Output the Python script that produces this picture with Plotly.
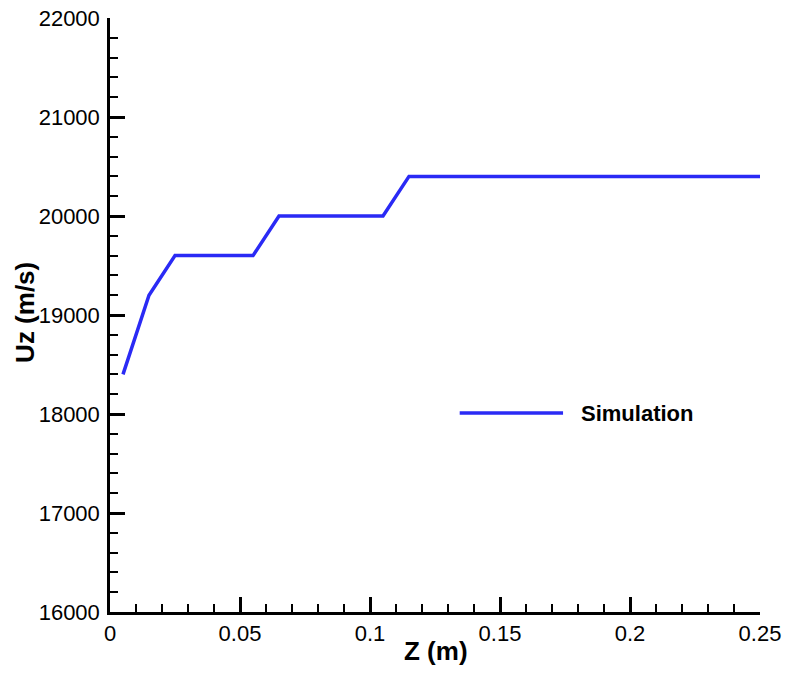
import plotly.graph_objects as go

z_m = [0.005, 0.015, 0.025, 0.055, 0.065, 0.105, 0.115, 0.25]
uz_ms = [18400, 19200, 19600, 19600, 20000, 20000, 20400, 20400]
series_name = "Simulation"
x_ticks = [0, 0.05, 0.1, 0.15, 0.2, 0.25]
x_tick_labels = ["0", "0.05", "0.1", "0.15", "0.2", "0.25"]
y_ticks = [16000, 17000, 18000, 19000, 20000, 21000, 22000]
y_tick_labels = ["16000", "17000", "18000", "19000", "20000", "21000", "22000"]
x_title = "Z (m)"
y_title = "Uz (m/s)"

line_color = "#2a2af5"
font_family = "Liberation Sans, Arial, Helvetica, sans-serif"

fig = go.Figure()
fig.add_trace(go.Scatter(x=z_m, y=uz_ms, mode="lines", name=series_name,
                         line=dict(color=line_color, width=3.5), showlegend=False))

# legend drawn manually to match long sample line
fig.add_shape(type="line", xref="paper", yref="paper", x0=0.538, x1=0.697, y0=0.335, y1=0.335,
              line=dict(color=line_color, width=3.5))
fig.add_annotation(xref="paper", yref="paper", x=0.722, y=0.335, text="<b>" + series_name + "</b>",
                   showarrow=False, xanchor="left", yanchor="middle",
                   font=dict(family=font_family, size=22, color="black"))

# axis titles
fig.add_annotation(xref="paper", yref="paper", x=0.502, y=-0.066, text="<b>" + x_title + "</b>",
                   showarrow=False, xanchor="center", yanchor="middle",
                   font=dict(family=font_family, size=26, color="black"))
fig.add_annotation(xref="paper", yref="paper", x=-0.131, y=0.505, text="<b>" + y_title + "</b>",
                   showarrow=False, xanchor="center", yanchor="middle", textangle=-90,
                   font=dict(family=font_family, size=26, color="black"))

axis_common = dict(showline=True, linecolor="black", linewidth=2.5, ticks="inside",
                   ticklen=15, tickwidth=2.5, tickcolor="black", showgrid=False, zeroline=False,
                   mirror=False, automargin=False,
                   tickfont=dict(family=font_family, size=22, color="black"))

fig.update_xaxes(range=[0, 0.25], tickvals=x_ticks, ticktext=x_tick_labels, ticklabelstandoff=0,
                 minor=dict(ticks="inside", dtick=0.01, ticklen=8, tickwidth=1.5, tickcolor="black", showgrid=False),
                 **axis_common)
fig.update_yaxes(range=[16000, 22000], tickvals=y_ticks, ticktext=y_tick_labels, ticklabelstandoff=3,
                 minor=dict(ticks="inside", dtick=200, ticklen=8, tickwidth=1.5, tickcolor="black", showgrid=False),
                 **axis_common)

fig.update_layout(width=785, height=673, margin=dict(l=110, r=25, t=18, b=61),
                  plot_bgcolor="white", paper_bgcolor="white", showlegend=False)

# remove the default page margin so the figure fills the window exactly
fig.write_html("out.html", config={"displayModeBar": False},
               post_script="document.body.style.margin='0';document.body.style.overflow='hidden';")
